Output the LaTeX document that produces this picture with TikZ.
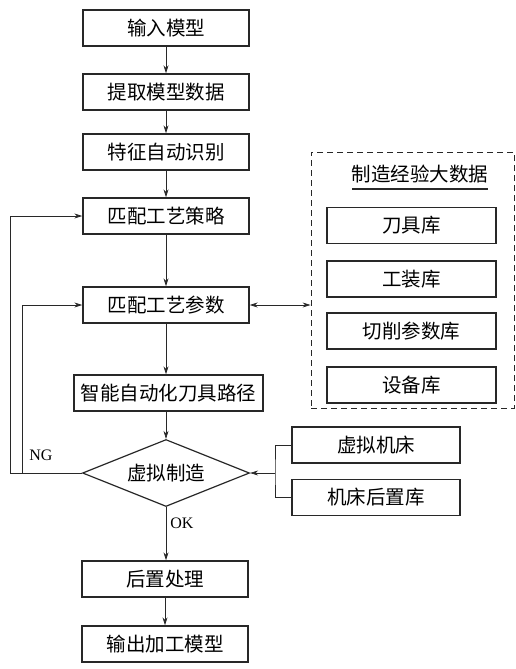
\documentclass[tikz,border=0pt]{standalone}
\usepackage{fontspec}
\setmainfont{Liberation Serif}
\newfontfamily\cjk{Noto Sans CJK SC}
\usetikzlibrary{arrows.meta, positioning, calc, shapes.geometric}
\definecolor{linegray}{RGB}{40,40,40}
\tikzset{
    % process step, a plain rectangle with chinese text
    procbox/.style={draw=linegray, line width=1.4pt, minimum width=166pt, minimum height=36pt,
        inner sep=0pt, font=\cjk\fontsize{19.5}{21}\selectfont},
    % database entry inside the dashed frame
    libbox/.style={procbox, minimum width=169pt},
    % decision node
    decide/.style={diamond, draw=linegray, line width=1.2pt, minimum width=167pt, minimum height=67pt,
        inner sep=0pt, aspect=2.5, font=\cjk\fontsize{19.5}{21}\selectfont},
    % directed edges
    edge/.style={-{Stealth[length=8pt, width=5pt]}, line width=0.7pt, draw=linegray},
    % plain connector, no tip
    link/.style={line width=0.7pt, draw=linegray},
    % labels on the branches
    branch/.style={font=\fontsize{16}{18}\selectfont, inner sep=1pt},
}

\begin{document}
\begin{tikzpicture}[x=1pt, y=-1pt]
    \useasboundingbox (0,0) rectangle (516,669);

    % ---- main flow ----
    \node[procbox] (input)  at (166, 28)  {输入模型};
    \node[procbox] (extract) at (166, 92)  {提取模型数据};
    \node[procbox] (feature) at (166, 152) {特征自动识别};
    \node[procbox] (strategy) at (166, 216) {匹配工艺策略};
    \node[procbox] (params) at (166, 305) {匹配工艺参数};
    \node[procbox, minimum width=189pt] (path) at (168.5, 393) {智能自动化刀具路径};
    \node[decide] (virt) at (166, 473) {虚拟制造};
    \node[procbox] (post) at (165, 579) {后置处理};
    \node[procbox] (output) at (165, 644) {输出加工模型};

    \draw[edge] (input) -- (extract);
    \draw[edge] (extract) -- (feature);
    \draw[edge] (feature) -- (strategy);
    \draw[edge] (strategy) -- (params);
    \draw[edge] (params) -- (params |- path.north);
    \draw[edge] (virt.north |- path.south) -- (virt.north);
    \draw[edge] (virt.south) -- (virt.south |- post.north)
        node[branch, pos=0.3, right=3pt] {OK};
    \draw[edge] (post) -- (output);

    % ---- NG feedback loops ----
    \coordinate (ngouter) at (10, 473);
    \coordinate (nginner) at (22, 473);
    \draw[link] (virt.west) -- (ngouter);
    \draw[edge] (ngouter) |- (strategy.west);
    \draw[edge] (nginner) |- (params.west);
    \node[branch] (ng) at (41, 455) {NG};

    % ---- manufacturing big data ----
    \node[draw=linegray, line width=0.9pt, dash pattern=on 6pt off 4pt,
          minimum width=203pt, minimum height=256pt] (bigdata) at (412.5, 280) {};
    \node[font=\cjk\fontsize{19.5}{21}\selectfont] (bdtitle) at (420, 174) {制造经验大数据};
    \draw[line width=1.1pt, draw=linegray] (352, 189) -- (488, 189);
    \node[libbox] (tools)   at (411.5, 225.5) {刀具库};
    \node[libbox] (fixture) at (411.5, 279)   {工装库};
    \node[libbox] (cutting) at (411.5, 331)   {切削参数库};
    \node[libbox] (equip)   at (411.5, 385)   {设备库};

    \draw[edge, {Stealth[length=8pt, width=5pt]}-{Stealth[length=8pt, width=5pt]}]
        (params.east) -- (bigdata.west |- params.east);

    % ---- machine inputs to the decision ----
    \node[procbox, minimum width=168pt] (machine) at (376, 445)   {虚拟机床};
    \node[procbox, minimum width=168pt] (postlib) at (376, 497.5) {机床后置库};
    \coordinate (join) at (275, 473);
    \draw[link] (machine.west) -| (join) |- (postlib.west);
    \draw[edge] (join) -- (virt.east);

\end{tikzpicture}
\end{document}
